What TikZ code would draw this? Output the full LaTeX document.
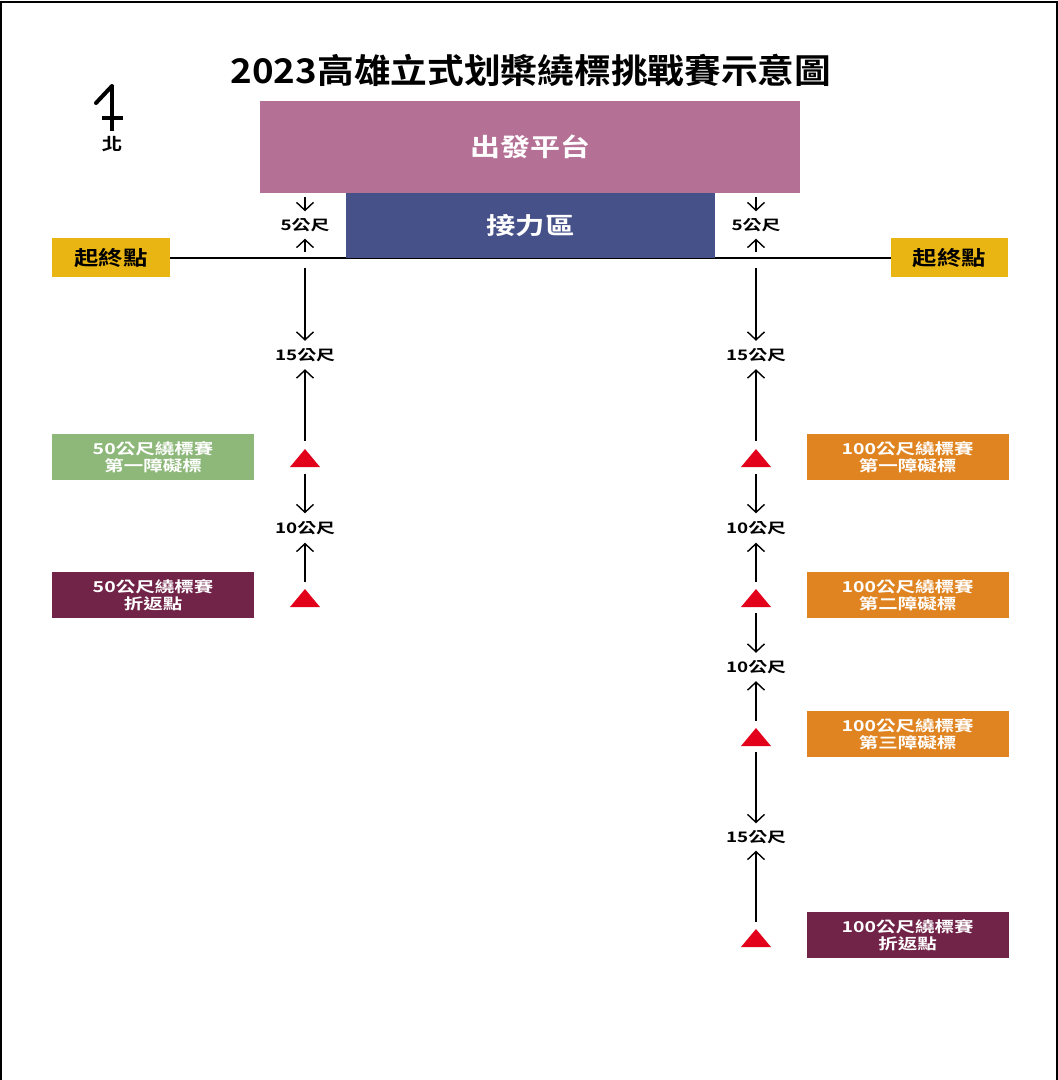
\documentclass[tikz,border=0pt]{standalone}
\usepackage{fontspec}
\newfontfamily\cjk{Noto Sans CJK TC}[BoldFont=* Bold]
\usetikzlibrary{arrows.meta,calc}
\definecolor{platpink}{HTML}{B57095}
\definecolor{relayblue}{HTML}{465089}
\definecolor{goldbox}{HTML}{E9B513}
\definecolor{greenbox}{HTML}{8DB87A}
\definecolor{maroonbox}{HTML}{712348}
\definecolor{orangebox}{HTML}{DF8421}
\definecolor{trired}{HTML}{E2001A}
\newcommand\cjkf[3]{\cjk\bfseries\fontsize{#1}{#2}\selectfont\addfontfeature{FakeStretch=#3}}
\begin{document}
\begin{tikzpicture}[x=1pt,y=-1pt,
  box/.style={inner sep=0pt, draw=none, align=center},
  plain/.style={box, text=white, font=\cjkf{15}{17.5}{1.3}},
  lbl/.style={inner sep=0pt, minimum height=28pt, font=\cjkf{14.5}{16}{1.3}},
  tri/.style={minimum width=30pt, minimum height=18pt, inner sep=0pt,
    path picture={\fill[trired] (path picture bounding box.south west) -- (path picture bounding box.south east) -- (path picture bounding box.north) -- cycle;}},
  arr/.style={line width=1.4pt, -{Straight Barb[length=8pt,width=17pt,line width=1.4pt]}}
]
\useasboundingbox (0,0) rectangle (1058,1080);
\draw[line width=2pt] (1,1080) -- (1,2) -- (1057,2) -- (1057,1080);

% title
\node[inner sep=0pt, font=\cjkf{34}{40}{1.08}] (title) at (531,70) {2023高雄立式划槳繞標挑戰賽示意圖};

% north arrow
\draw[line width=4pt] (112,85) -- (112,131);
\draw[line width=4pt, line cap=round] (112,86) -- (96,103);
\draw[line width=3.5pt] (102,118) -- (123,118);
\node[inner sep=0pt, font=\cjkf{17}{19}{1.2}] (north) at (112,144) {北};

% start line
\node[box, fill=goldbox, minimum width=118pt, minimum height=39pt, font=\cjkf{20}{23}{1.22}] (startL) at (111,257.5) {起終點};
\node[box, fill=goldbox, minimum width=117pt, minimum height=39pt, font=\cjkf{20}{23}{1.22}] (startR) at (949.5,257.5) {起終點};
\draw[line width=2pt] (startL.east) -- (startR.west);

% platform and relay
\node[box, fill=platpink, minimum width=540pt, minimum height=92pt, text=white, font=\cjkf{25}{29}{1.2}] (plat) at (530,147) {出發平台};
\node[box, fill=relayblue, minimum width=369pt, minimum height=65pt, text=white, font=\cjkf{23.5}{27}{1.25}] (relay) at (530.5,225.5) {接力區};

% info boxes
\node[plain, fill=greenbox, minimum width=202pt, minimum height=46pt] (gL1) at (153,457) {50公尺繞標賽\\第一障礙標};
\node[plain, fill=maroonbox, minimum width=202pt, minimum height=46pt] (mL2) at (153,595) {50公尺繞標賽\\折返點};
\node[plain, fill=orangebox, minimum width=202pt, minimum height=46pt] (oR1) at (907.5,457) {100公尺繞標賽\\第一障礙標};
\node[plain, fill=orangebox, minimum width=202pt, minimum height=46pt] (oR2) at (907.5,595) {100公尺繞標賽\\第二障礙標};
\node[plain, fill=orangebox, minimum width=202pt, minimum height=46pt] (oR3) at (907.5,734) {100公尺繞標賽\\第三障礙標};
\node[plain, fill=maroonbox, minimum width=202pt, minimum height=46pt] (mR4) at (907.5,935) {100公尺繞標賽\\折返點};

% triangles
\node[tri] (tL1) at (305,458) {};
\node[tri] (tL2) at (305,598) {};
\node[tri] (tR1) at (756,458) {};
\node[tri] (tR2) at (756,598) {};
\node[tri] (tR3) at (756,737) {};
\node[tri] (tR4) at (756,938) {};

% distance labels
\node[lbl, minimum height=27pt] (d5L) at (305,225) {5公尺};
\node[lbl, minimum height=27pt] (d5R) at (756,225) {5公尺};
\node[lbl] (d15L) at (305,355) {15公尺};
\node[lbl] (d15R) at (756,355) {15公尺};
\node[lbl, minimum height=29pt] (d10L) at (305,528) {10公尺};
\node[lbl, minimum height=29pt] (d10R1) at (756,528) {10公尺};
\node[lbl] (d10R2) at (756,667) {10公尺};
\node[lbl, minimum height=27pt] (d15R2) at (756,837) {15公尺};

\coordinate (lineL) at (d5L |- startL);
\coordinate (lineR) at (d5R |- startR);

% left arrows
\draw[arr, shorten <=4pt] (plat.south -| d5L) -- (d5L.north);
\draw[arr, shorten <=6pt] (lineL) -- (d5L.south);
\draw[arr, shorten <=10pt] (lineL) -- (d15L.north);
\draw[arr, shorten <=8pt] (tL1.north) -- (d15L.south);
\draw[arr, shorten <=7pt] (tL1.south) -- (d10L.north);
\draw[arr, shorten <=7pt] (tL2.north) -- (d10L.south);

% right arrows
\draw[arr, shorten <=4pt] (plat.south -| d5R) -- (d5R.north);
\draw[arr, shorten <=6pt] (lineR) -- (d5R.south);
\draw[arr, shorten <=10pt] (lineR) -- (d15R.north);
\draw[arr, shorten <=8pt] (tR1.north) -- (d15R.south);
\draw[arr, shorten <=7pt] (tR1.south) -- (d10R1.north);
\draw[arr, shorten <=7pt] (tR2.north) -- (d10R1.south);
\draw[arr, shorten <=6pt] (tR2.south) -- (d10R2.north);
\draw[arr, shorten <=7pt] (tR3.north) -- (d10R2.south);
\draw[arr, shorten <=6pt] (tR3.south) -- (d15R2.north);
\draw[arr, shorten <=7pt] (tR4.north) -- (d15R2.south);
\end{tikzpicture}
\end{document}
